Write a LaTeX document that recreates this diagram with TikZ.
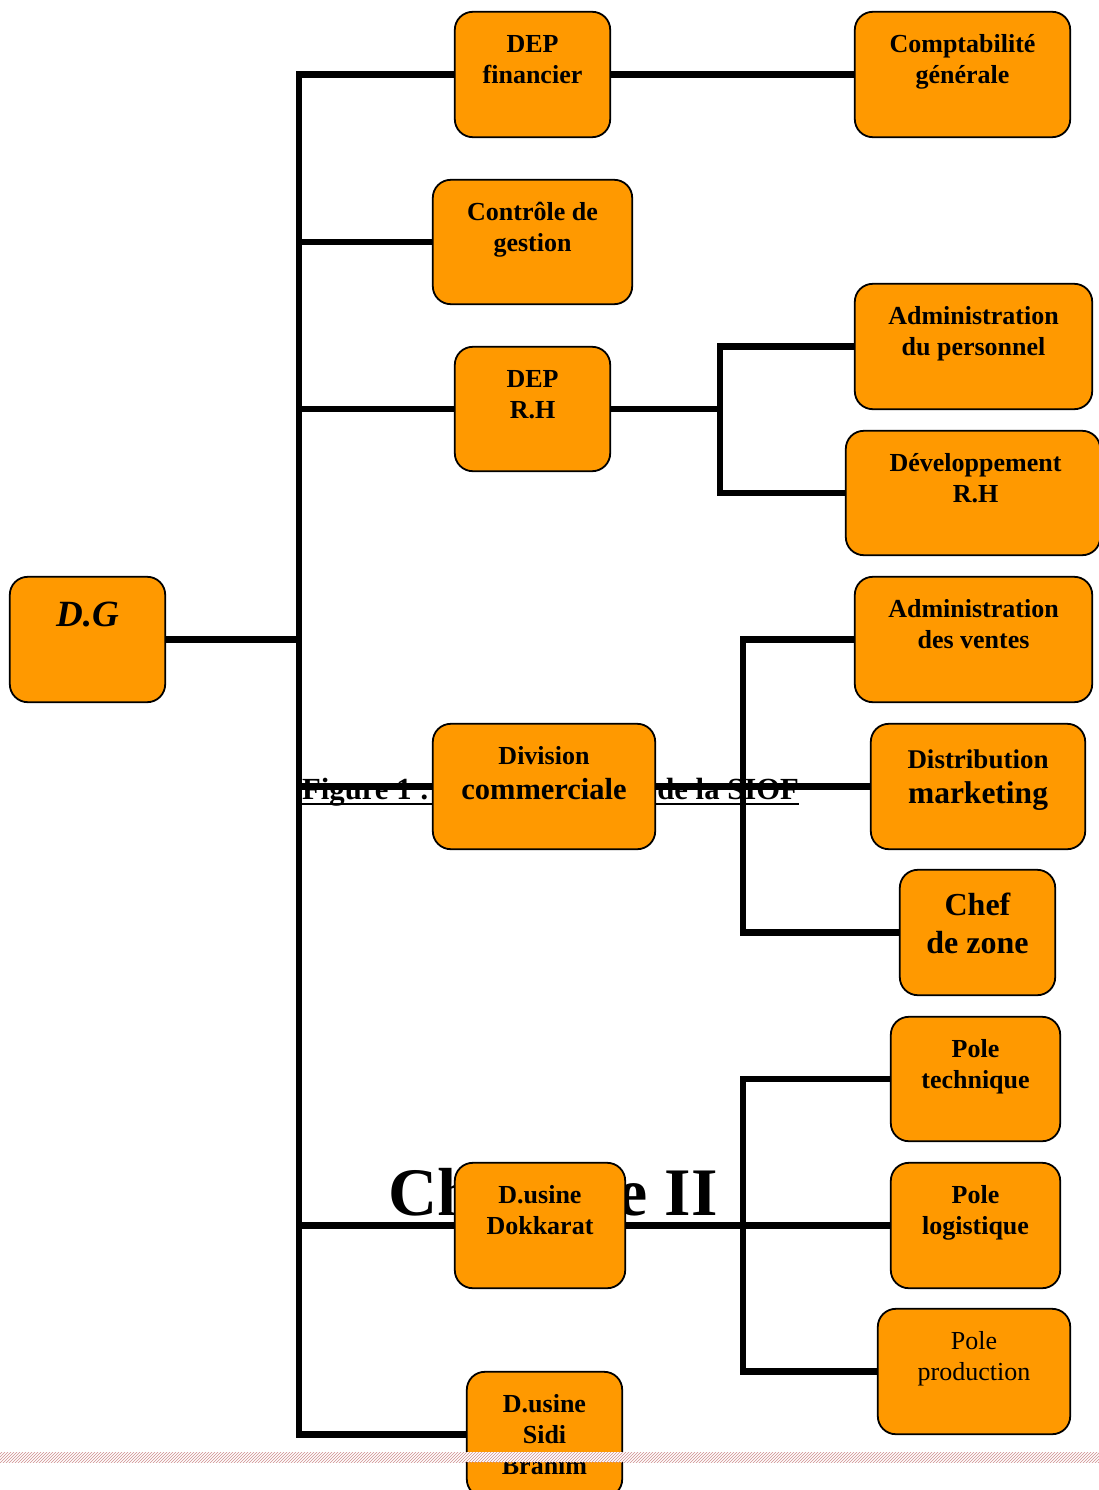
\documentclass[tikz,border=0pt]{standalone}
\usepackage{fontspec}
\setmainfont{Liberation Serif}
\usetikzlibrary{patterns}
\definecolor{boxorange}{HTML}{FF9900}
\definecolor{hatchpink}{HTML}{CF8F8F}
\newcommand{\boxstrut}{\rule{0pt}{0.75em}}
\begin{document}
\begin{tikzpicture}[x=1pt,y=-1pt,
  box/.style={draw=black, line width=1.8pt, fill=boxorange, rounded corners=18pt, inner sep=0pt, minimum height=125pt},
  lbl/.style={anchor=north, align=center, inner sep=0pt, font=\bfseries\fontsize{26}{31}\selectfont},
  conn/.style={line width=6.8pt, line cap=rect},
  bgtext/.style={anchor=base west, inner sep=0pt}]

\useasboundingbox (0,0) rectangle (1099,1490);
\fill[white] (0,0) rectangle (1099,1490);

% background texts
\node[bgtext, font=\bfseries\fontsize{30.7}{36}\selectfont] (fig) at (302,799) {Figure 1 : Organigramme\hspace{7pt} de la SIOF};
\draw[line width=2.6pt] ([yshift=-5pt]fig.base west) -- ([yshift=-5pt]fig.base east);
\node[bgtext, font=\bfseries\fontsize{68}{80}\selectfont] (chap) at (388,1215) {Chapitre II};

% box positions
\path
  (87.5,639.5)  node[minimum width=155pt, minimum height=125pt, inner sep=0pt] (dg) {}
  (532.5,74.5)  node[minimum width=155pt, minimum height=125pt, inner sep=0pt] (fin) {}
  (962.5,74.5)  node[minimum width=215pt, minimum height=125pt, inner sep=0pt] (compta) {}
  (532.5,242)   node[minimum width=199pt, minimum height=124pt, inner sep=0pt] (cg) {}
  (532.5,409)   node[minimum width=155pt, minimum height=124pt, inner sep=0pt] (rh) {}
  (973.5,346.5) node[minimum width=237pt, minimum height=125pt, inner sep=0pt] (adp) {}
  (973,493)     node[minimum width=254pt, minimum height=124pt, inner sep=0pt] (devrh) {}
  (973.5,639.5) node[minimum width=237pt, minimum height=125pt, inner sep=0pt] (adv) {}
  (544,786.5)   node[minimum width=222pt, minimum height=125pt, inner sep=0pt] (div) {}
  (978,786.5)   node[minimum width=214pt, minimum height=125pt, inner sep=0pt] (dm) {}
  (977.5,932.5) node[minimum width=155pt, minimum height=125pt, inner sep=0pt] (cz) {}
  (975.5,1079)  node[minimum width=169pt, minimum height=124pt, inner sep=0pt] (pt) {}
  (975.5,1225.5) node[minimum width=169pt, minimum height=125pt, inner sep=0pt] (pl) {}
  (974,1371.5)  node[minimum width=192pt, minimum height=125pt, inner sep=0pt] (pp) {}
  (540,1225.5)  node[minimum width=170pt, minimum height=125pt, inner sep=0pt] (dk) {}
  (544.5,1434.5) node[minimum width=155pt, minimum height=125pt, inner sep=0pt] (sb) {};

% connectors
\coordinate (bus) at (299,74);
\draw[conn] (bus |- fin.west) -- (bus |- sb.west);
\draw[conn] (dg.east) -- (bus |- dg.east);
\foreach \n in {fin,cg,rh,div,dk,sb} \draw[conn] (bus |- \n.west) -- (\n.west);
\draw[conn] (fin.east) -- (compta.west);

\coordinate (rhbus) at (720,409);
\draw[conn] (rh.east) -- (rhbus |- rh.east);
\draw[conn] (rhbus |- adp.west) -- (rhbus |- devrh.west);
\draw[conn] (rhbus |- adp.west) -- (adp.west);
\draw[conn] (rhbus |- devrh.west) -- (devrh.west);

\coordinate (divbus) at (743,786.5);
\draw[conn] (div.east) -- (dm.west);
\draw[conn] (divbus |- adv.west) -- (divbus |- cz.west);
\draw[conn] (divbus |- adv.west) -- (adv.west);
\draw[conn] (divbus |- cz.west) -- (cz.west);

\coordinate (dkbus) at (743,1225.5);
\draw[conn] (dk.east) -- (pl.west);
\draw[conn] (dkbus |- pt.west) -- (dkbus |- pp.west);
\draw[conn] (dkbus |- pt.west) -- (pt.west);
\draw[conn] (dkbus |- pp.west) -- (pp.west);

% boxes
\foreach \n in {dg,fin,compta,cg,rh,adp,devrh,adv,div,dm,cz,pt,pl,pp,dk,sb}
  \draw[box] (\n.south west) rectangle (\n.north east);

% labels
\node[lbl, font=\bfseries\itshape\fontsize{37}{44}\selectfont] (dg-t) at (87.5,599) {\boxstrut D.G};
\node[lbl] (fin-t) at (532.5,32.5) {\boxstrut DEP\\financier};
\node[lbl] (compta-t) at (962.5,32.5) {\boxstrut Comptabilité\\générale};
\node[lbl] (cg-t) at (532.5,200.5) {\boxstrut Contrôle de\\gestion};
\node[lbl] (rh-t) at (532.5,367.5) {\boxstrut DEP\\R.H};
\node[lbl] (adp-t) at (973.5,304.5) {\boxstrut Administration\\du personnel};
\node[lbl] (devrh-t) at (975.5,451.5) {\boxstrut Développement\\R.H};
\node[lbl] (adv-t) at (973.5,597.5) {\boxstrut Administration\\des ventes};
\node[lbl] (div-t) at (544,744.5) {\boxstrut Division\\[4pt]{\fontsize{30.5}{35}\selectfont commerciale}};
\node[lbl, font=\bfseries\fontsize{27}{35}\selectfont] (dm-t) at (978,748.5) {\boxstrut Distribution\\{\fontsize{31.5}{35}\selectfont marketing}};
\node[lbl, font=\bfseries\fontsize{32}{38}\selectfont] (cz-t) at (977.5,891) {\boxstrut Chef\\de zone};
\node[lbl] (pt-t) at (975.5,1037.5) {\boxstrut Pole\\technique};
\node[lbl] (pl-t) at (975.5,1183.5) {\boxstrut Pole\\logistique};
\node[lbl, font=\fontsize{26}{31}\selectfont] (pp-t) at (974,1330) {\boxstrut Pole\\production};
\node[lbl] (dk-t) at (540,1183.5) {\boxstrut D.usine\\Dokkarat};
\node[lbl] (sb-t) at (544.5,1392.5) {\boxstrut D.usine\\Sidi\\Brahim};

% page-break band
\fill[white] (0,1452) rectangle (1099,1462);
\fill[pattern=north east lines, pattern color=hatchpink] (0,1452) rectangle (1099,1462);
\end{tikzpicture}
\end{document}
